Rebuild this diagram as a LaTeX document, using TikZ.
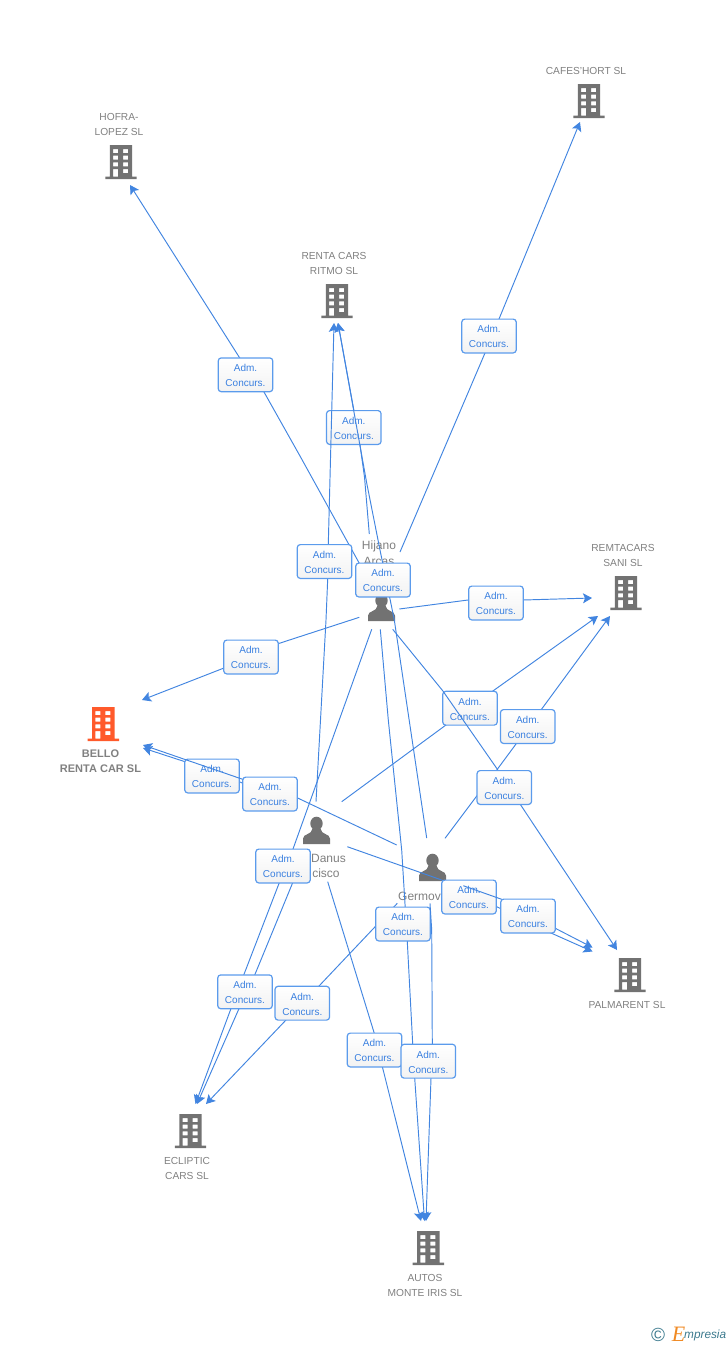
\documentclass[tikz,border=0pt]{standalone}
\usepackage{fontspec}
\setmainfont{Liberation Sans}
\newfontfamily\logoserif{Liberation Serif}
\usetikzlibrary{arrows.meta}
\definecolor{linkblue}{HTML}{4285E0}
\definecolor{boxblue}{HTML}{5B9BEC}
\definecolor{textblue}{HTML}{3A80E0}
\definecolor{icongray}{HTML}{727272}
\definecolor{labelgray}{HTML}{808080}
\definecolor{bellored}{HTML}{FF5A2B}
\definecolor{logoteal}{HTML}{3C7A8E}
\definecolor{logoorange}{HTML}{F08A24}
\tikzset{
  conn/.style={draw=linkblue,line width=0.95pt,line join=round,-{Stealth[length=9pt,width=10pt,inset=2pt]}},
  admbox/.style={rectangle,rounded corners=3pt,draw=boxblue,line width=1.2pt,top color=white,bottom color=white!95!black,
    minimum width=54.5pt,minimum height=33.8pt,inner sep=0pt,align=center,text=textblue,font=\fontsize{10}{15}\selectfont},
  hub/.style={rectangle,inner sep=0pt,minimum width=31pt,minimum height=33pt},
  phub/.style={rectangle,inner sep=0pt,minimum width=27pt,minimum height=27pt},
  blabel/.style={inner sep=0pt,align=center,text=labelgray,font=\fontsize{10.2}{15}\selectfont},
  bbold/.style={inner sep=0pt,align=center,text=labelgray,font=\bfseries\fontsize{11}{15}\selectfont},
  plabel/.style={inner sep=0pt,text=labelgray,font=\fontsize{12}{15}\selectfont},
  pics/building/.style={code={
    \fill[#1,even odd rule]
      (-11.2,-17) rectangle (11.2,14.7)
      (-15.7,14.7) rectangle (15.7,17)
      (-7.9,-13) rectangle (-2.9,-9)
      (2.1,-13) rectangle (7.1,-9)
      (-7.9,-6.3) rectangle (-2.9,-2.3)
      (2.1,-6.3) rectangle (7.1,-2.3)
      (-7.9,0.3) rectangle (-2.9,4.3)
      (2.1,0.3) rectangle (7.1,4.3)
      (-7.9,7) rectangle (-2.9,14.7)
      (2.1,7) rectangle (7.1,11);
  }},
  pics/person/.style={code={
    \fill[icongray] (0,-7) ellipse (6.2 and 6.8);
    \fill[icongray] (-13.5,13.5) -- (-13.5,8) .. controls (-13.5,3) and (-4.5,4.5) .. (-4,-2) -- (4,-2)
      .. controls (4.5,4.5) and (13.5,3) .. (13.5,8) -- (13.5,13.5) -- cycle;
  }}
}
\newcommand{\admline}[1]{\raisebox{-0.8pt}[7.2pt][0.2pt]{#1}}
\newcommand{\adm}[2]{\node[admbox] (#1) at (#2) {\admline{Adm.}\\\admline{Concurs.}};}
\begin{document}
\begin{tikzpicture}[x=1pt,y=-1pt]
\useasboundingbox (0,0) rectangle (728,1345);
% buildings
\node[hub] (hofra) at (121,162) {}; \pic at (hofra) {building=icongray};
\node[hub] (cafes) at (589,101) {}; \pic at (cafes) {building=icongray};
\node[hub] (renta) at (337,301) {}; \pic at (renta) {building=icongray};
\node[hub] (remta) at (626,593) {}; \pic at (remta) {building=icongray};
\node[hub] (bello) at (103.3,724) {}; \pic at (bello) {building=bellored};
\node[hub] (palm) at (630,975) {}; \pic at (palm) {building=icongray};
\node[hub] (eclip) at (190.5,1131) {}; \pic at (eclip) {building=icongray};
\node[hub] (autos) at (428.3,1248) {}; \pic at (autos) {building=icongray};
% building labels
\node[blabel] (lhofra) at (119,124.2) {HOFRA-\\LOPEZ SL};
\node[blabel] (lcafes) at (586,70.5) {CAFES'HORT SL};
\node[blabel] (lrenta) at (334,263.2) {RENTA CARS\\RITMO SL};
\node[blabel] (lremta) at (623,555.2) {REMTACARS\\SANI SL};
\node[bbold] (lbello) at (100.5,761) {BELLO\\RENTA CAR SL};
\node[blabel] (lpalm) at (627,1004.5) {PALMARENT SL};
\node[blabel] (leclip) at (187,1168.2) {ECLIPTIC\\CARS SL};
\node[blabel] (lautos) at (425,1285.2) {AUTOS\\MONTE IRIS SL};
% persons
\node[phub] (hijano) at (381.5,607.5) {}; \pic at (hijano) {person};
\node[phub] (danus) at (316.5,830.5) {}; \pic at (danus) {person};
\node[phub] (germov) at (432.5,867.5) {}; \pic at (germov) {person};
\node[plabel] (lhij1) at (379,546) {Hijano};
\node[plabel] (lhij2) at (379,561) {Arcas};
\node[plabel] (ldan1) at (328.5,858.5) {Danus};
\node[plabel] (ldan2) at (326,873.5) {cisco};
\node[plabel] (lger) at (419.5,896) {Germov};
% connectors and their labels
\coordinate (m1) at (245.5,374.8);
\draw[conn] ([shift={(-18.5,-37.5)}]hijano.center) -- (300,456) -- (264,392) -- (239.3,357.3) -- ([shift={(9,23)}]hofra.center);
\adm{a1}{m1}
\coordinate (m2) at (489,336);
\draw[conn] ([shift={(18.5,-55.5)}]hijano.center) -- (485,353) -- (499,319) -- ([shift={(-9,21)}]cafes.center);
\adm{a2}{m2}
\coordinate (m3) at (353.8,427.5);
\draw[conn] ([shift={(-12.2,-73.5)}]hijano.center) -- (364.5,477) -- (360,445) -- (354,411) -- ([shift={(1,22)}]renta.center);
\adm{a3}{m3}
\coordinate (m4) at (324.5,561.5);
\draw[conn] ([shift={(-0.5,-28.8)}]danus.center) -- (326,620) -- (327.7,579) -- (328.3,544) -- ([shift={(-3,22)}]renta.center);
\adm{a4}{m4}
\coordinate (m5) at (212,776);
\draw[conn] ([shift={(-46.5,-35.5)}]danus.center) -- (240,782) -- (185,761.7) -- ([shift={(39.7,24)}]bello.center);
\adm{a5}{m5}
\coordinate (m6) at (270,794);
\draw[conn] ([shift={(-35.8,-22.5)}]germov.center) -- (298.3,798.3) -- (242.7,779.3) -- ([shift={(39.7,21)}]bello.center);
\adm{a6}{m6}
\coordinate (m7) at (251,657);
\draw[conn] ([shift={(-22.2,9.8)}]hijano.center) -- (279,643.4) -- (224,668) -- ([shift={(38.7,-24)}]bello.center);
\adm{a7}{m7}
\coordinate (m8) at (496,603);
\draw[conn] ([shift={(17.8,1.5)}]hijano.center) -- (468,600) -- (523,600) -- ([shift={(-34,5)}]remta.center);
\adm{a8}{m8}
\coordinate (m9) at (470,708.2);
\draw[conn] ([shift={(25.2,-28.8)}]danus.center) -- (445,725.7) -- (493.3,690.7) -- ([shift={(-28,23)}]remta.center);
\adm{a9}{m9}
\coordinate (m10) at (527.7,726.5);
\draw[conn] ([shift={(12.5,-29.2)}]germov.center) -- (475,798.3) -- (497.3,769.3) -- (516,744) -- (541.7,709) -- ([shift={(-16,23)}]remta.center);
\adm{a10}{m10}
\coordinate (m11) at (504.3,787.5);
\draw[conn] ([shift={(11.2,21.8)}]hijano.center) -- (442.7,690.7) -- (496.7,768.3) -- (520.7,805) -- ([shift={(-13,-25)}]palm.center);
\adm{a11}{m11}
\coordinate (m12) at (469,897);
\draw[conn] ([shift={(30.8,16.2)}]danus.center) -- (441.7,880) -- (496.7,906.7) -- (551.7,933.3) -- ([shift={(-37.5,-23.5)}]palm.center);
\adm{a12}{m12}
\coordinate (m13) at (528,916);
\draw[conn] ([shift={(30.8,18.2)}]germov.center) -- (501.7,899.3) -- (556.7,929) -- ([shift={(-37.5,-27.5)}]palm.center);
\adm{a13}{m13}
\coordinate (m14) at (283,866);
\coordinate (m15) at (245,991.8);
\draw[conn] ([shift={(-9.8,21.8)}]hijano.center) -- (293,849) -- (279.3,882.7) -- (244,974.3) -- (230.7,1009.3) -- ([shift={(5,-27)}]eclip.center);
\draw[conn] ([shift={(-18.5,39.5)}]danus.center) -- (292.7,882.7) -- (255,974.3) -- (238.7,1009.3) -- ([shift={(6.5,-27)}]eclip.center);
\adm{a14}{m14}
\adm{a15}{m15}
\coordinate (m16) at (302.3,1003.2);
\draw[conn] ([shift={(-35.2,35.8)}]germov.center) -- (319.3,985.7) -- (286,1020) -- ([shift={(15.5,-27)}]eclip.center);
\adm{a16}{m16}
\coordinate (m17) at (403,924);
\draw[conn] ([shift={(-1.2,21.8)}]hijano.center) -- (388.3,720) -- (401.7,850) -- (407.3,941.7) -- (412.7,1044) -- (414.7,1078) -- ([shift={(-3.8,-27)}]autos.center);
\adm{a17}{m17}
\coordinate (m18) at (374.5,1050);
\draw[conn] ([shift={(11.2,51.2)}]danus.center) -- (374.3,1033.3) -- (382.5,1067.3) -- ([shift={(-7.3,-27)}]autos.center);
\adm{a18}{m18}
\coordinate (m19) at (428.3,1061.2);
\draw[conn] ([shift={(-2.5,35.8)}]germov.center) -- (431.7,930) -- (432.3,1044) -- (431,1078.3) -- ([shift={(-2.3,-27)}]autos.center);
\adm{a19}{m19}
\coordinate (m20) at (383,580);
\draw[conn] ([shift={(-5.8,-29.5)}]germov.center) -- (394.3,620) -- (380,550) -- (366.7,483) -- ([shift={(1,22)}]renta.center);
\adm{a20}{m20}
% logo
\node[inner sep=0pt,text=logoteal,font=\fontsize{19}{19}\selectfont] (logoc) at (658,1335) {©};
\node[inner sep=0pt,text=logoorange,font=\logoserif\itshape\fontsize{22}{22}\selectfont] (logoe) at (678.5,1334) {E};
\node[inner sep=0pt,anchor=base west,text=logoteal,font=\itshape\fontsize{11.8}{13}\selectfont] (logot) at (684,1338) {mpresia};
\end{tikzpicture}
\end{document}
